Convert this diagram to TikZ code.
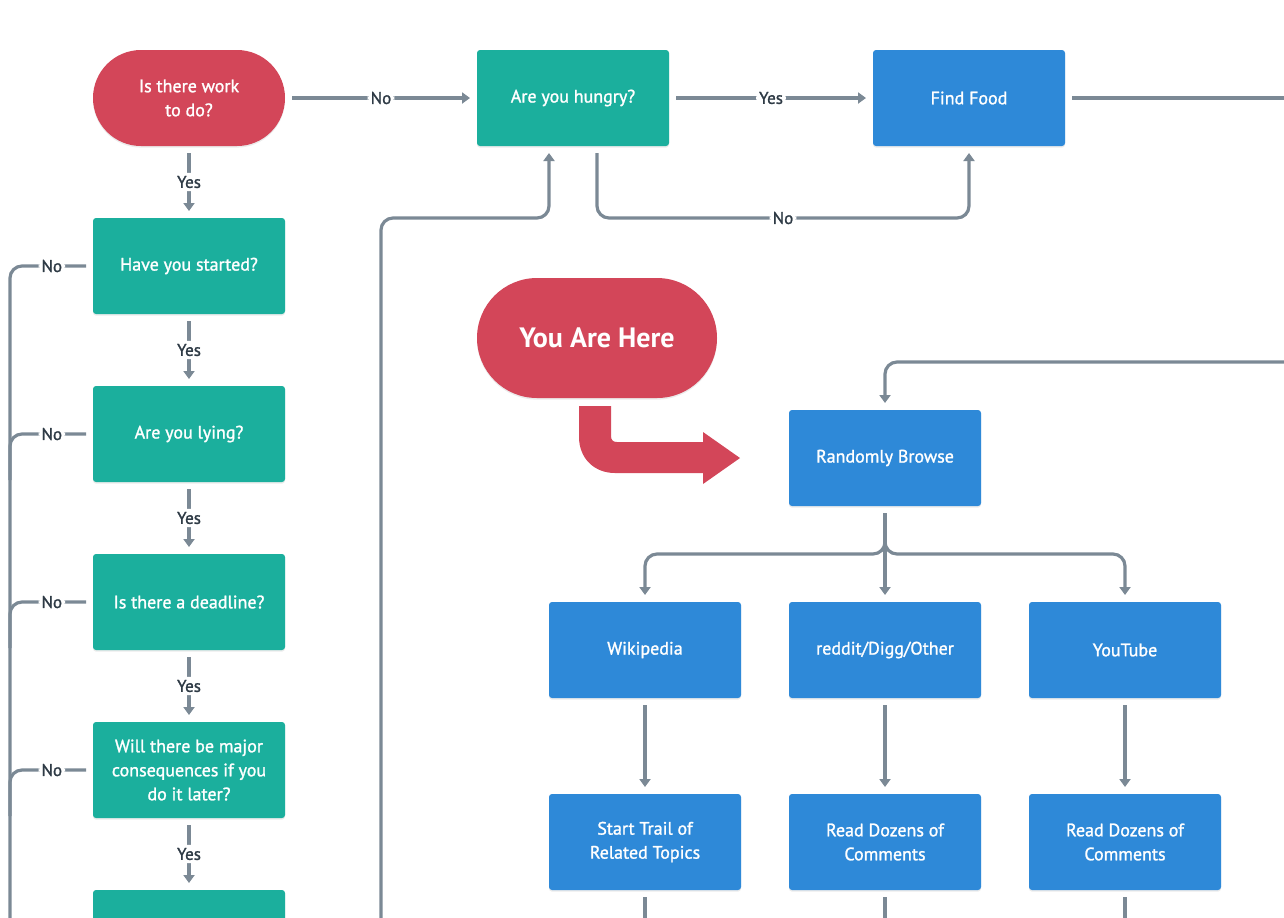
\documentclass[tikz,border=0pt]{standalone}
\usepackage{fontspec}
\setmainfont{PT Sans}
\newfontfamily\boxfont{PT Sans}[FakeBold=1.3]
\usetikzlibrary{arrows.meta,shadows}

\definecolor{startred}{HTML}{D34659}
\definecolor{askteal}{HTML}{1BAF9D}
\definecolor{doblue}{HTML}{2E89D8}
\definecolor{linkgray}{HTML}{7B8995}
\definecolor{answertext}{HTML}{2E3A45}

\tikzset{
  box/.style={rectangle, rounded corners=1.5pt, minimum width=96pt, minimum height=48pt,
    text=white, align=center, outer sep=3.5pt,
    font=\boxfont\fontsize{9}{12}\selectfont,
    drop shadow={shadow xshift=0pt, shadow yshift=-0.8pt, opacity=0.08, fill=black}},
  question/.style={box, fill=askteal},
  activity/.style={box, fill=doblue},
  terminal/.style={box, fill=startred, rounded corners=24pt},
  flow/.style={draw=linkgray, line width=1.6pt, rounded corners=6pt},
  arrow/.style={flow, -{Triangle[width=5.5pt,length=4pt]}},
  answer/.style={fill=white, text=answertext, inner sep=1.5pt,
    font=\boxfont\fontsize{8.5}{10}\selectfont}
}

\begin{document}
\begin{tikzpicture}[x=0.5pt,y=-0.5pt]
    \useasboundingbox (0,0) rectangle (1284,917);
    \clip (0,0) rectangle (1284,917);

    % Left column: questions
    \node[terminal] (work) at (189,98) {Is there work\\to do?};
    \node[question] (started) at (189,266) {Have you started?};
    \node[question] (lying) at (189,434) {Are you lying?};
    \node[question] (deadline) at (189,602) {Is there a deadline?};
    \node[question] (later) at (189,770) {Will there be major\\consequences if you\\do it later?};
    \node[question] (next) at (189,938) {};

    % Top row
    \node[question] (hungry) at (573,98) {Are you hungry?};
    \node[activity] (food) at (969,98) {Find Food};

    % You are here
    \node[terminal, minimum width=120pt, minimum height=60pt, rounded corners=30pt,
      font=\fontsize{14}{16}\selectfont\bfseries] (here) at (597,338) {You Are Here};
    \fill[startred] (579,406) -- (611,406) -- (611,436)
      .. controls (611,440) and (613,442) .. (617,442) -- (703,442) -- (703,432)
      -- (740,458) -- (703,484) -- (703,473) -- (615,473)
      .. controls (594,473) and (579,458) .. (579,437) -- cycle;

    % Browsing branch
    \node[activity] (browse) at (885,458) {Randomly Browse};
    \node[activity] (wiki) at (645,650) {Wikipedia};
    \node[activity] (reddit) at (885,650) {reddit/Digg/Other};
    \node[activity] (youtube) at (1125,650) {YouTube};
    \node[activity] (trail) at (645,842) {Start Trail of\\Related Topics};
    \node[activity] (comments) at (885,842) {Read Dozens of\\Comments};
    \node[activity] (ytcomments) at (1125,842) {Read Dozens of\\Comments};

    % Free ends of connectors
    \coordinate (loopin) at (381,930);
    \coordinate (foodout) at (1300,98);
    \coordinate (browsein) at (1300,362);
    \coordinate (split) at (885,554);
    \coordinate (leftrail) at (10,930);

    % Yes connectors down the left column
    \draw[arrow] (work) -- node[answer]{Yes} (started);
    \draw[arrow] (started) -- node[answer]{Yes} (lying);
    \draw[arrow] (lying) -- node[answer]{Yes} (deadline);
    \draw[arrow] (deadline) -- node[answer]{Yes} (later);
    \draw[arrow] (later) -- node[answer]{Yes} (next);

    % No connectors to the left rail
    \draw[flow] (started.west) -- node[answer, pos=0.45]{No} (10,266) -- (leftrail);
    \draw[flow] (lying.west) -- node[answer, pos=0.45]{No} (10,434) -- (10,480);
    \draw[flow] (deadline.west) -- node[answer, pos=0.45]{No} (10,602) -- (10,648);
    \draw[flow] (later.west) -- node[answer, pos=0.45]{No} (10,770) -- (10,816);

    % Top row connectors
    \draw[arrow] (work) -- node[answer]{No} (hungry);
    \draw[arrow] (hungry) -- node[answer]{Yes} (food);
    \draw[flow] (food) -- (foodout);
    \draw[arrow] ([xshift=12pt]hungry.south) -- ++(0,65) -| node[answer, pos=0.25]{No} (food.south);
    \draw[arrow] (loopin) -- (381,218) -| ([xshift=-12pt]hungry.south);

    % Browsing connectors
    \draw[arrow] (browsein) -| (browse.north);
    \draw[arrow] (browse.south) -- (split) -| (wiki.north);
    \draw[arrow] (browse.south) -- (split) -| (youtube.north);
    \draw[arrow] (browse.south) -- (reddit.north);
    \draw[arrow] (wiki) -- (trail);
    \draw[arrow] (reddit) -- (comments);
    \draw[arrow] (youtube) -- (ytcomments);
    \draw[flow] (trail.south) -- (645,930);
    \draw[flow] (comments.south) -- (885,930);
    \draw[flow] (ytcomments.south) -- (1125,930);

\end{tikzpicture}
\end{document}
